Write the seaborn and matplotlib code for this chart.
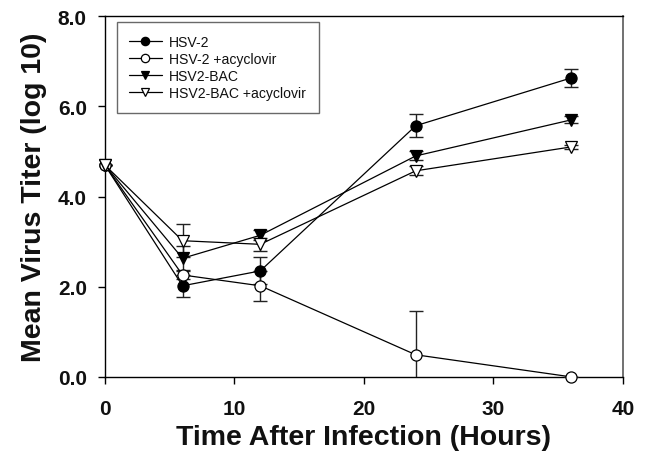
import matplotlib
matplotlib.use("Agg")
import matplotlib.pyplot as plt
import seaborn as sns
import pandas as pd

# Data
hours = [0, 6, 12, 24, 36]
series_names = ["HSV-2", "HSV-2 +acyclovir", "HSV2-BAC", "HSV2-BAC +acyclovir"]
hsv2 = [4.70, 2.02, 2.35, 5.57, 6.63]
hsv2_err = [0.0, 0.25, 0.30, 0.25, 0.19]
hsv2_acy = [4.70, 2.26, 2.02, 0.49, 0.0]
hsv2_acy_err = [0.0, 0.10, 0.33, 0.98, 0.0]
bac = [4.70, 2.63, 3.14, 4.90, 5.70]
bac_err = [0.0, 0.28, 0.11, 0.10, 0.08]
bac_acy = [4.70, 3.02, 2.94, 4.57, 5.10]
bac_acy_err = [0.0, 0.37, 0.15, 0.10, 0.05]
x_ticks = [0, 10, 20, 30, 40]
y_ticks = [0.0, 2.0, 4.0, 6.0, 8.0]

values = [hsv2, hsv2_acy, bac, bac_acy]
errors = [hsv2_err, hsv2_acy_err, bac_err, bac_acy_err]
markers = ["o", "o", "v", "v"]
faces = ["black", "white", "black", "white"]

sns.set_style("ticks")
plt.rcParams["font.family"] = ["Liberation Sans", "DejaVu Sans"]
plt.rcParams["text.color"] = "#111111"
plt.rcParams["axes.labelcolor"] = "#111111"

fig = plt.figure(figsize=(6.51, 4.52), dpi=100)
ax = fig.add_axes([0.161, 0.164, 0.796, 0.798])

for name, vals, errs, mk, fc in zip(series_names, values, errors, markers, faces):
    df = pd.DataFrame({"hours": hours, "titer": vals})
    ax.errorbar(df["hours"], df["titer"], yerr=errs, fmt="none",
                ecolor="#222222", elinewidth=1.0, capsize=5, capthick=1.0, zorder=2)
    sns.lineplot(data=df, x="hours", y="titer", ax=ax, color="black",
                 linewidth=0.9, marker=mk, markersize=8.5 if mk == "v" else 8,
                 markerfacecolor=fc, markeredgecolor="black", markeredgewidth=0.9,
                 label=name, zorder=3, clip_on=False)

ax.set_xlim(0, 40)
ax.set_ylim(0, 8)
ax.set_xticks(x_ticks)
ax.set_yticks(y_ticks)
ax.set_xticklabels([str(t) for t in x_ticks])
ax.set_yticklabels([f"{t:.1f}" for t in y_ticks])
ax.tick_params(axis="both", direction="out", length=5, width=1, colors="black",
               labelcolor="#111111", labelsize=15)
ax.tick_params(axis="y", pad=8)
ax.tick_params(axis="x", pad=11)
for lab in ax.get_xticklabels() + ax.get_yticklabels():
    lab.set_fontweight("bold")
for s in ax.spines.values():
    s.set_visible(True)
    s.set_color("black")
    s.set_linewidth(1.0)
    s.set_zorder(1)
ax.spines["right"].set_color("#666666")
ax.spines["right"].set_linewidth(1.3)

ax.set_xlabel("Time After Infection (Hours)", fontsize=20.5, fontweight="bold", labelpad=4)
ax.set_ylabel("Mean Virus Titer (log 10)", fontsize=20.5, fontweight="bold", labelpad=8)

leg = ax.legend(loc="upper left", bbox_to_anchor=(0.023, 0.983), borderaxespad=0,
                fontsize=10.1, frameon=True, fancybox=False, edgecolor="#444444",
                handlelength=2.3, handletextpad=0.55, labelspacing=0.22,
                borderpad=0.9, markerscale=0.75)
leg.get_frame().set_linewidth(1.0)
for t in leg.get_texts():
    t.set_color("#111111")

fig.savefig("out.png", dpi=100)
